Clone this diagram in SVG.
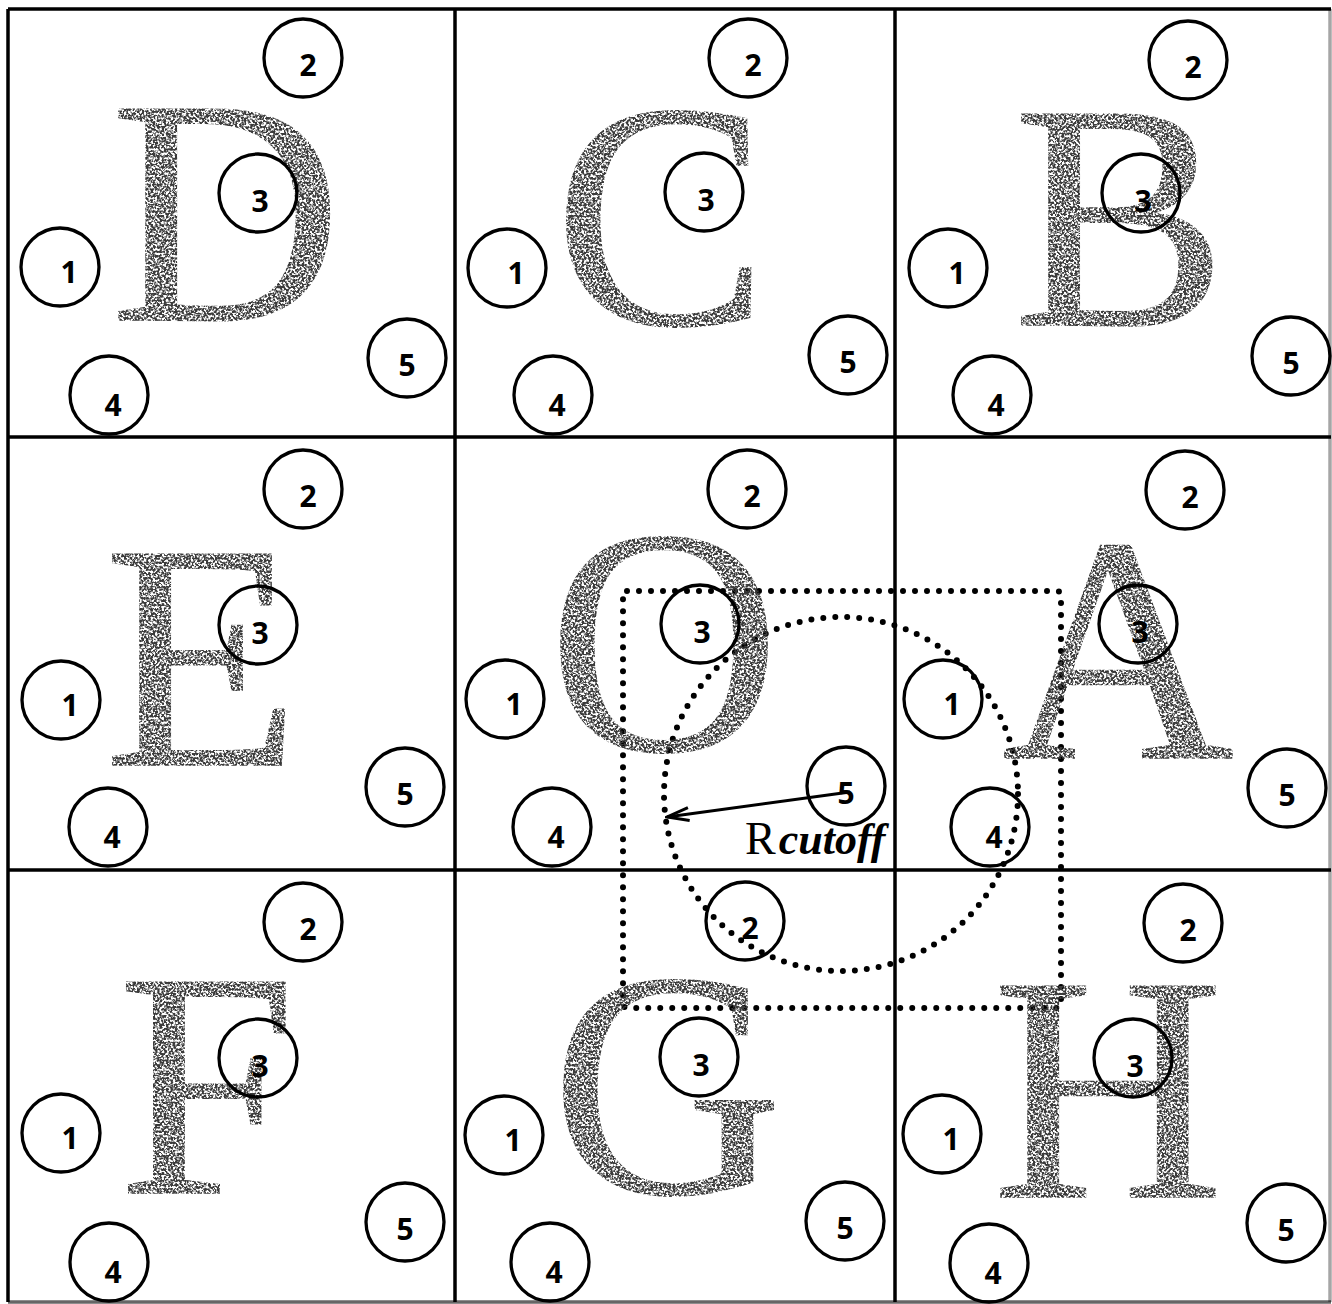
<svg xmlns="http://www.w3.org/2000/svg" width="1332" height="1304" viewBox="0 0 1332 1304">
<style>
.grid{stroke:#000;stroke-width:3.5}
.glyph{font-family:"Liberation Serif","Times New Roman",serif;font-size:322px;fill:#3a3a3a;stroke:#3a3a3a;stroke-width:1.5;text-anchor:middle;filter:url(#grain)}
.atom circle{fill:none;stroke:#000;stroke-width:3.3}
.atom text{font-family:"Open Sans","DejaVu Sans",sans-serif;font-weight:700;font-size:30px;text-anchor:middle;fill:#000}
.dots{fill:none;stroke:#000;stroke-width:6;stroke-linecap:round;stroke-dasharray:0 12}
.arrow{stroke:#000;stroke-width:3;fill:none}
.label{font-family:"Liberation Serif","Times New Roman",serif;fill:#000}
</style>
<defs>
<filter id="grain" x="-5%" y="-5%" width="110%" height="110%">
<feTurbulence type="fractalNoise" baseFrequency="0.45" numOctaves="2" seed="7" result="noise"/>
<feColorMatrix in="noise" type="matrix" values="0 0 0 0 0  0 0 0 0 0  0 0 0 0 0  5 0 0 0 -1.9" result="mask"/>
<feComposite in="SourceGraphic" in2="mask" operator="in"/>
</filter>
<marker id="barb" viewBox="0 0 26 16" refX="24" refY="8" markerWidth="26" markerHeight="16" markerUnits="userSpaceOnUse" orient="auto">
<path d="M2,1.5 L24,8 L2,14.5" fill="none" stroke="#000" stroke-width="3"/>
</marker>
</defs>
<rect width="1332" height="1304" fill="#fff"/>

<g id="frame">
<line class="grid" x1="8" y1="9" x2="1331" y2="9"/>
<line class="grid" x1="8" y1="9" x2="8" y2="1302"/>
<line class="grid" x1="8" y1="1302" x2="1331" y2="1302" stroke-opacity="0.6"/>
<line class="grid" x1="1330" y1="9" x2="1330" y2="1302" stroke-opacity="0.35"/>
<line class="grid" x1="455" y1="9" x2="455" y2="1302"/>
<line class="grid" x1="895" y1="9" x2="895" y2="1302"/>
<line class="grid" x1="8" y1="437" x2="1331" y2="437"/>
<line class="grid" x1="8" y1="870" x2="1331" y2="870"/>
</g>

<g id="cutoff-region">
<rect class="dots" x="623" y="591" width="438" height="417" rx="4"/>
<circle class="dots" cx="841" cy="794" r="177"/>
</g>

<g id="cell-D">
<text class="glyph" x="226" y="320">D</text>
<g class="atom"><circle cx="60" cy="267" r="39"/><text x="69" y="283">1</text></g>
<g class="atom"><circle cx="303" cy="58" r="39"/><text x="308" y="76">2</text></g>
<g class="atom"><circle cx="258" cy="193" r="39"/><text x="260" y="212">3</text></g>
<g class="atom"><circle cx="109" cy="395" r="39"/><text x="113" y="416">4</text></g>
<g class="atom"><circle cx="407" cy="358" r="39"/><text x="407" y="376">5</text></g>
</g>

<g id="cell-C">
<text class="glyph" x="661" y="324">C</text>
<g class="atom"><circle cx="507" cy="268" r="39"/><text x="516" y="284">1</text></g>
<g class="atom"><circle cx="748" cy="58" r="39"/><text x="753" y="76">2</text></g>
<g class="atom"><circle cx="704" cy="192" r="39"/><text x="706" y="211">3</text></g>
<g class="atom"><circle cx="553" cy="395" r="39"/><text x="557" y="416">4</text></g>
<g class="atom"><circle cx="848" cy="355" r="39"/><text x="848" y="373">5</text></g>
</g>

<g id="cell-B">
<text class="glyph" x="1120" y="325">B</text>
<g class="atom"><circle cx="948" cy="268" r="39"/><text x="957" y="284">1</text></g>
<g class="atom"><circle cx="1188" cy="60" r="39"/><text x="1193" y="78">2</text></g>
<g class="atom"><circle cx="1141" cy="193" r="39"/><text x="1143" y="212">3</text></g>
<g class="atom"><circle cx="992" cy="395" r="39"/><text x="996" y="416">4</text></g>
<g class="atom"><circle cx="1291" cy="356" r="39"/><text x="1291" y="374">5</text></g>
</g>

<g id="cell-E">
<text class="glyph" x="202" y="765">E</text>
<g class="atom"><circle cx="61" cy="700" r="39"/><text x="70" y="716">1</text></g>
<g class="atom"><circle cx="303" cy="489" r="39"/><text x="308" y="507">2</text></g>
<g class="atom"><circle cx="258" cy="625" r="39"/><text x="260" y="644">3</text></g>
<g class="atom"><circle cx="108" cy="827" r="39"/><text x="112" y="848">4</text></g>
<g class="atom"><circle cx="405" cy="787" r="39"/><text x="405" y="805">5</text></g>
</g>

<g id="cell-O">
<text class="glyph" x="664" y="750">O</text>
<g class="atom"><circle cx="505" cy="699" r="39"/><text x="514" y="715">1</text></g>
<g class="atom"><circle cx="747" cy="489" r="39"/><text x="752" y="507">2</text></g>
<g class="atom"><circle cx="700" cy="624" r="39"/><text x="702" y="643">3</text></g>
<g class="atom"><circle cx="552" cy="827" r="39"/><text x="556" y="848">4</text></g>
<g class="atom"><circle cx="846" cy="786" r="39"/><text x="846" y="804">5</text></g>
</g>

<g id="cell-A">
<text class="glyph" x="1118" y="758">A</text>
<g class="atom"><circle cx="943" cy="699" r="39"/><text x="952" y="715">1</text></g>
<g class="atom"><circle cx="1185" cy="490" r="39"/><text x="1190" y="508">2</text></g>
<g class="atom"><circle cx="1138" cy="624" r="39"/><text x="1140" y="643">3</text></g>
<g class="atom"><circle cx="990" cy="827" r="39"/><text x="994" y="848">4</text></g>
<g class="atom"><circle cx="1287" cy="788" r="39"/><text x="1287" y="806">5</text></g>
</g>

<g id="cell-F">
<text class="glyph" x="207" y="1193">F</text>
<g class="atom"><circle cx="61" cy="1133" r="39"/><text x="70" y="1149">1</text></g>
<g class="atom"><circle cx="303" cy="922" r="39"/><text x="308" y="940">2</text></g>
<g class="atom"><circle cx="258" cy="1058" r="39"/><text x="260" y="1077">3</text></g>
<g class="atom"><circle cx="109" cy="1262" r="39"/><text x="113" y="1283">4</text></g>
<g class="atom"><circle cx="405" cy="1222" r="39"/><text x="405" y="1240">5</text></g>
</g>

<g id="cell-G">
<text class="glyph" x="667" y="1193">G</text>
<g class="atom"><circle cx="504" cy="1135" r="39"/><text x="513" y="1151">1</text></g>
<g class="atom"><circle cx="745" cy="921" r="39"/><text x="750" y="939">2</text></g>
<g class="atom"><circle cx="699" cy="1057" r="39"/><text x="701" y="1076">3</text></g>
<g class="atom"><circle cx="550" cy="1262" r="39"/><text x="554" y="1283">4</text></g>
<g class="atom"><circle cx="845" cy="1221" r="39"/><text x="845" y="1239">5</text></g>
</g>

<g id="cell-H">
<text class="glyph" x="1108" y="1197">H</text>
<g class="atom"><circle cx="942" cy="1134" r="39"/><text x="951" y="1150">1</text></g>
<g class="atom"><circle cx="1183" cy="923" r="39"/><text x="1188" y="941">2</text></g>
<g class="atom"><circle cx="1133" cy="1058" r="39"/><text x="1135" y="1077">3</text></g>
<g class="atom"><circle cx="989" cy="1263" r="39"/><text x="993" y="1284">4</text></g>
<g class="atom"><circle cx="1286" cy="1223" r="39"/><text x="1286" y="1241">5</text></g>
</g>

<g id="connectors">
<line class="arrow" x1="850" y1="792" x2="667" y2="817" marker-end="url(#barb)"/>
<text class="label" x="745" y="854"><tspan font-size="46">R</tspan><tspan dx="3" font-size="44" font-style="italic" font-weight="bold">cutoff</tspan></text>
</g>
</svg>
